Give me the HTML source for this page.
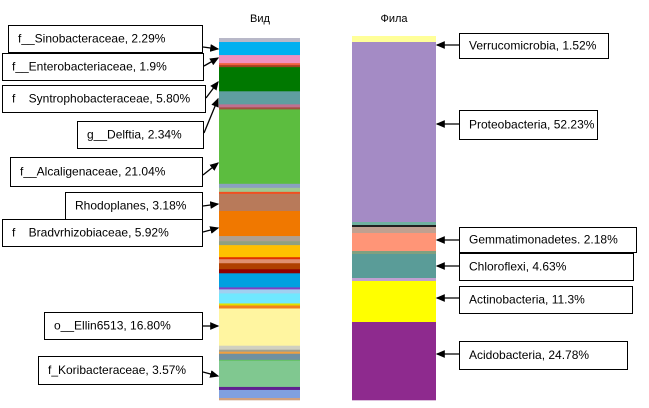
<!DOCTYPE html>
<html><head><meta charset="utf-8"><style>
body{margin:0;background:#fff;}
svg{display:block;font-family:"Liberation Sans",sans-serif;}
svg text{white-space:pre;}
</style></head><body>
<svg id="chart" width="649" height="408">
<defs><marker id="ah" markerWidth="7" markerHeight="6" refX="6" refY="3" orient="auto"><path d="M0,0L7,3L0,6z" fill="#000"/></marker></defs>
<text x="260" y="22" font-size="11" text-anchor="middle">Вид</text>
<text x="394" y="22" font-size="11" text-anchor="middle">Фила</text>
<g id="bars"></g><g id="labels"></g>
</svg>
<script>
const speciesValues=[4,13,8,2,2,24,13,3,2,74,4,4,2,17,25,5,4,12,2,4,6,4,14,2,4,10,2,3,37,4,2,2,6,1,26,3,8,2];
const speciesColors=["#b8b8c8","#00b0f0","#f090c0","#f06040","#a04020","#007800","#5f9ea0","#c07090","#a05040","#5cbd3f","#8aa0c0","#a0c890","#f05020","#b87a5a","#f07800","#b0a090","#90a080","#ffc000","#e03000","#e09070","#b04000","#900000","#00a0e0","#8040c0","#a0d0f0","#70e8ff","#e0e000","#f08020","#fff5a0","#d0d0c0","#a0a090","#f0a040","#7090a0","#60c060","#80c890","#602090","#80a0e0","#d0a080"];
const phylumValues=[6,180,3,2,6,18,3,24,3,41,78];
const phylumColors=["#ffff99","#a48bc5","#70b0a0","#202020","#c0a090","#ff9577","#80a080","#5a9c98","#c0a0d0","#ffff00","#8e2a8e"];
const leftLabels=["f__Sinobacteraceae, 2.29%","f__Enterobacteriaceae, 1.9%","f    Syntrophobacteraceae, 5.80%","g__Delftia, 2.34%","f__Alcaligenaceae, 21.04%","Rhodoplanes, 3.18%","f    Bradvrhizobiaceae, 5.92%","o__Ellin6513, 16.80%","f_Koribacteraceae, 3.57%"];
const rightLabels=["Verrucomicrobia, 1.52%","Proteobacteria, 52.23%","Gemmatimonadetes. 2.18%","Chloroflexi, 4.63%","Actinobacteria, 11.3%","Acidobacteria, 24.78%"];
const NS="http://www.w3.org/2000/svg";
function mk(t,a,p){const e=document.createElementNS(NS,t);for(const k in a)e.setAttribute(k,a[k]);p.appendChild(e);return e;}
const bars=document.getElementById('bars'),labs=document.getElementById('labels');
function drawBar(vals,cols,x,w,top,bot,name){
  const tot=vals.reduce((a,b)=>a+b,0);const sc=v=>v/tot*(bot-top);let y=top;
  vals.forEach((v,i)=>{const r=mk('rect',{x:x,y:y,width:w,height:sc(v)+0.3,fill:cols[i]},bars);
    
    
    y+=sc(v);});
}
drawBar(speciesValues,speciesColors,219,81,38,400,'species');
drawBar(phylumValues,phylumColors,352,84,36,400,'phylum');
const lbox=[[8,25,202,52,47,49],[2,53,203,80,66,58],[2,85,205,112,98,82],[77,121,203,148,133,99],[10,157,202,186,175,163],[65,192,202,219,206,204],[2,219,202,246,232,228],[44,312,202,339,326,326],[38,356,202,384,372,376]];
lbox.forEach((b,i)=>{
  const r=mk('rect',{x:b[0]+0.5,y:b[1]+0.5,width:b[2]-b[0],height:b[3]-b[1],fill:'#fff',stroke:'#000','stroke-width':1},labs);
  
  
  const t=mk('text',{x:b[0]+10,y:(b[1]+b[3])/2+4,'font-size':12},labs);t.textContent=leftLabels[i];
  
  
  const l=mk('line',{x1:b[2]+1,y1:b[4],x2:218,y2:b[5],stroke:'#000','stroke-width':1.3,'marker-end':'url(#ah)'},labs);
  
  
});
const rbox=[[459,33,608,58,45],[459,110,597,139,124],[459,227,636,252,240],[459,253,633,280,266],[459,286,632,313,298],[459,341,627,369,354]];
rbox.forEach((b,i)=>{
  const r=mk('rect',{x:b[0]+0.5,y:b[1]+0.5,width:b[2]-b[0],height:b[3]-b[1],fill:'#fff',stroke:'#000','stroke-width':1},labs);
  
  
  const t=mk('text',{x:b[0]+10,y:(b[1]+b[3])/2+4,'font-size':12},labs);t.textContent=rightLabels[i];
  
  
  const l=mk('line',{x1:b[0],y1:b[4],x2:437,y2:b[4],stroke:'#000','stroke-width':1.3,'marker-end':'url(#ah)'},labs);
  
  
});
</script>
</body></html>
